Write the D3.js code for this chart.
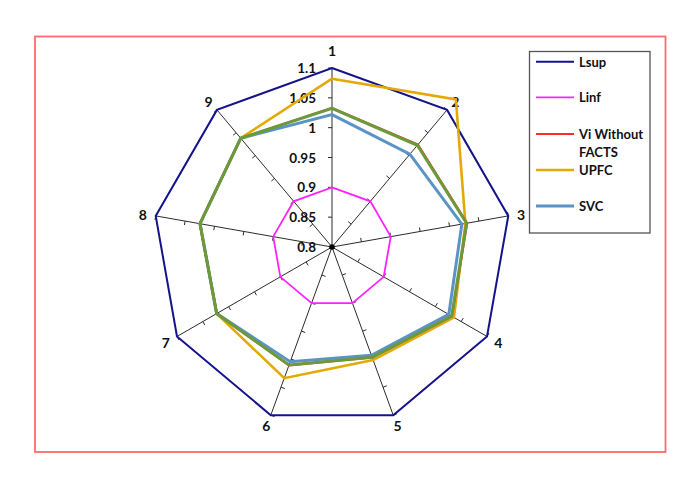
<!DOCTYPE html>
<html><head><meta charset="utf-8">
<script src="https://cdn.jsdelivr.net/npm/d3@7"></script>
<style>body{margin:0;background:#fff}svg{display:block}</style>
</head><body>
<svg id="c" width="700" height="478"></svg>
<script>
const categories = ["1","2","3","4","5","6","7","8","9"];
const lsup      = [1.1,1.1,1.1,1.1,1.1,1.1,1.1,1.1,1.1];
const linf      = [0.9,0.9,0.9,0.9,0.9,0.9,0.9,0.9,0.9];
const viWithout = [1.033,1.024,1.030,1.032,0.997,1.011,1.023,1.025,1.038];
const greenSer  = [1.0325,1.0226,1.029,1.0316,0.9967,1.0105,1.0232,1.0246,1.038];
const upfc      = [1.082,1.123,1.027,1.036,1.0015,1.034,1.0232,1.0246,1.038];
const svc       = [1.022,1.003,1.021,1.026,0.993,1.0045,1.0232,1.0246,1.038];
const tickValues = [0.8,0.85,0.9,0.95,1,1.05,1.1];
const tickLabels = ["0.8","0.85","0.9","0.95","1","1.05","1.1"];
const legendNames = ["Lsup","Linf","Vi Without FACTS","UPFC","SVC"];

const svg = d3.select("#c");
const cx = 332, cy = 247, R = 179;
const r = d3.scaleLinear().domain([0.8,1.1]).range([0,R]);
const n = categories.length;
const ang = i => i*2*Math.PI/n;
const FONT = "Lato, 'Open Sans', sans-serif";

// outer border
svg.append("rect").attr("x",35).attr("y",36.5).attr("width",630.5).attr("height",415.5)
  .attr("fill","none").attr("stroke","#ff6b6b").attr("stroke-width",1.8);

const g = svg.append("g").attr("transform",`translate(${cx},${cy})`);

// axes
categories.forEach((c,i)=>{
  const a = ang(i), sx=Math.sin(a), sy=-Math.cos(a);
  g.append("line").attr("x1",0).attr("y1",0).attr("x2",sx*R).attr("y2",sy*R)
    .attr("stroke","#2b2b2b").attr("stroke-width",1);
  tickValues.slice(1).forEach(v=>{
    const rr=r(v);
    const px=sx*rr, py=sy*rr;
    const tx=-Math.cos(a), ty=-Math.sin(a);
    g.append("line").attr("x1",px).attr("y1",py).attr("x2",px+tx*4).attr("y2",py+ty*4)
      .attr("stroke","#2b2b2b").attr("stroke-width",1);
  });
  const ex=sx*R, ey=sy*R;
  const lx = ex + 13*sx;
  const ly = ey + 11*sy + (Math.cos(a)>0.9 ? -7 : 0);
  g.append("text").attr("x",lx).attr("y",ly).attr("text-anchor","middle")
    .attr("dominant-baseline","central").attr("font-family",FONT)
    .attr("font-weight","bold").attr("font-size",14).attr("fill","#111").text(c);
});

// tick labels
tickValues.forEach((v,k)=>{
  g.append("text").attr("x",-16).attr("y",-r(v)).attr("text-anchor","end")
    .attr("dominant-baseline","central").attr("font-family",FONT)
    .attr("font-weight","bold").attr("font-size",13.5).attr("fill","#111").text(tickLabels[k]);
});

const line = d3.lineRadial().angle((d,i)=>ang(i)).radius(d=>r(d)).curve(d3.curveLinearClosed);
const series = [
  {v:lsup, c:"#15138a", w:2},
  {v:linf, c:"#ff22ff", w:1.8},
  {v:upfc, c:"#e3a905", w:2.6},
  {v:svc, c:"#5b93c7", w:3},
  {v:viWithout, c:"#ff2a2a", w:2.2},
  {v:greenSer, c:"#6a9a3a", w:3}
];
series.forEach(s=>{
  g.append("path").attr("d",line(s.v)).attr("fill","none").attr("stroke",s.c)
    .attr("stroke-width",s.w).attr("stroke-linejoin","miter");
});
g.append("circle").attr("r",2.8).attr("fill","#000");

// legend
svg.append("rect").attr("x",529.5).attr("y",51.5).attr("width",120.5).attr("height",181.5)
  .attr("fill","#fff").attr("stroke","#555").attr("stroke-width",1.3);
const legColors = ["#15138a","#ff22ff","#ff2a2a","#e3a905","#5b93c7"];
const legWidths = [2,1.8,2.2,2.6,3];
const legY = [61.7,97.3,134,170,206];
legendNames.forEach((name,i)=>{
  svg.append("line").attr("x1",536).attr("x2",574).attr("y1",legY[i]).attr("y2",legY[i])
    .attr("stroke",legColors[i]).attr("stroke-width",legWidths[i]);
  const t = svg.append("text").attr("x",579).attr("y",legY[i]).attr("dominant-baseline","central")
    .attr("font-family",FONT).attr("font-weight","bold")
    .attr("font-size",13).attr("fill","#111");
  if(name==="Vi Without FACTS"){
    t.append("tspan").attr("x",579).text("Vi Without");
    t.append("tspan").attr("x",579).attr("dy",18).text("FACTS");
  } else t.text(name);
});
</script>
</body></html>
